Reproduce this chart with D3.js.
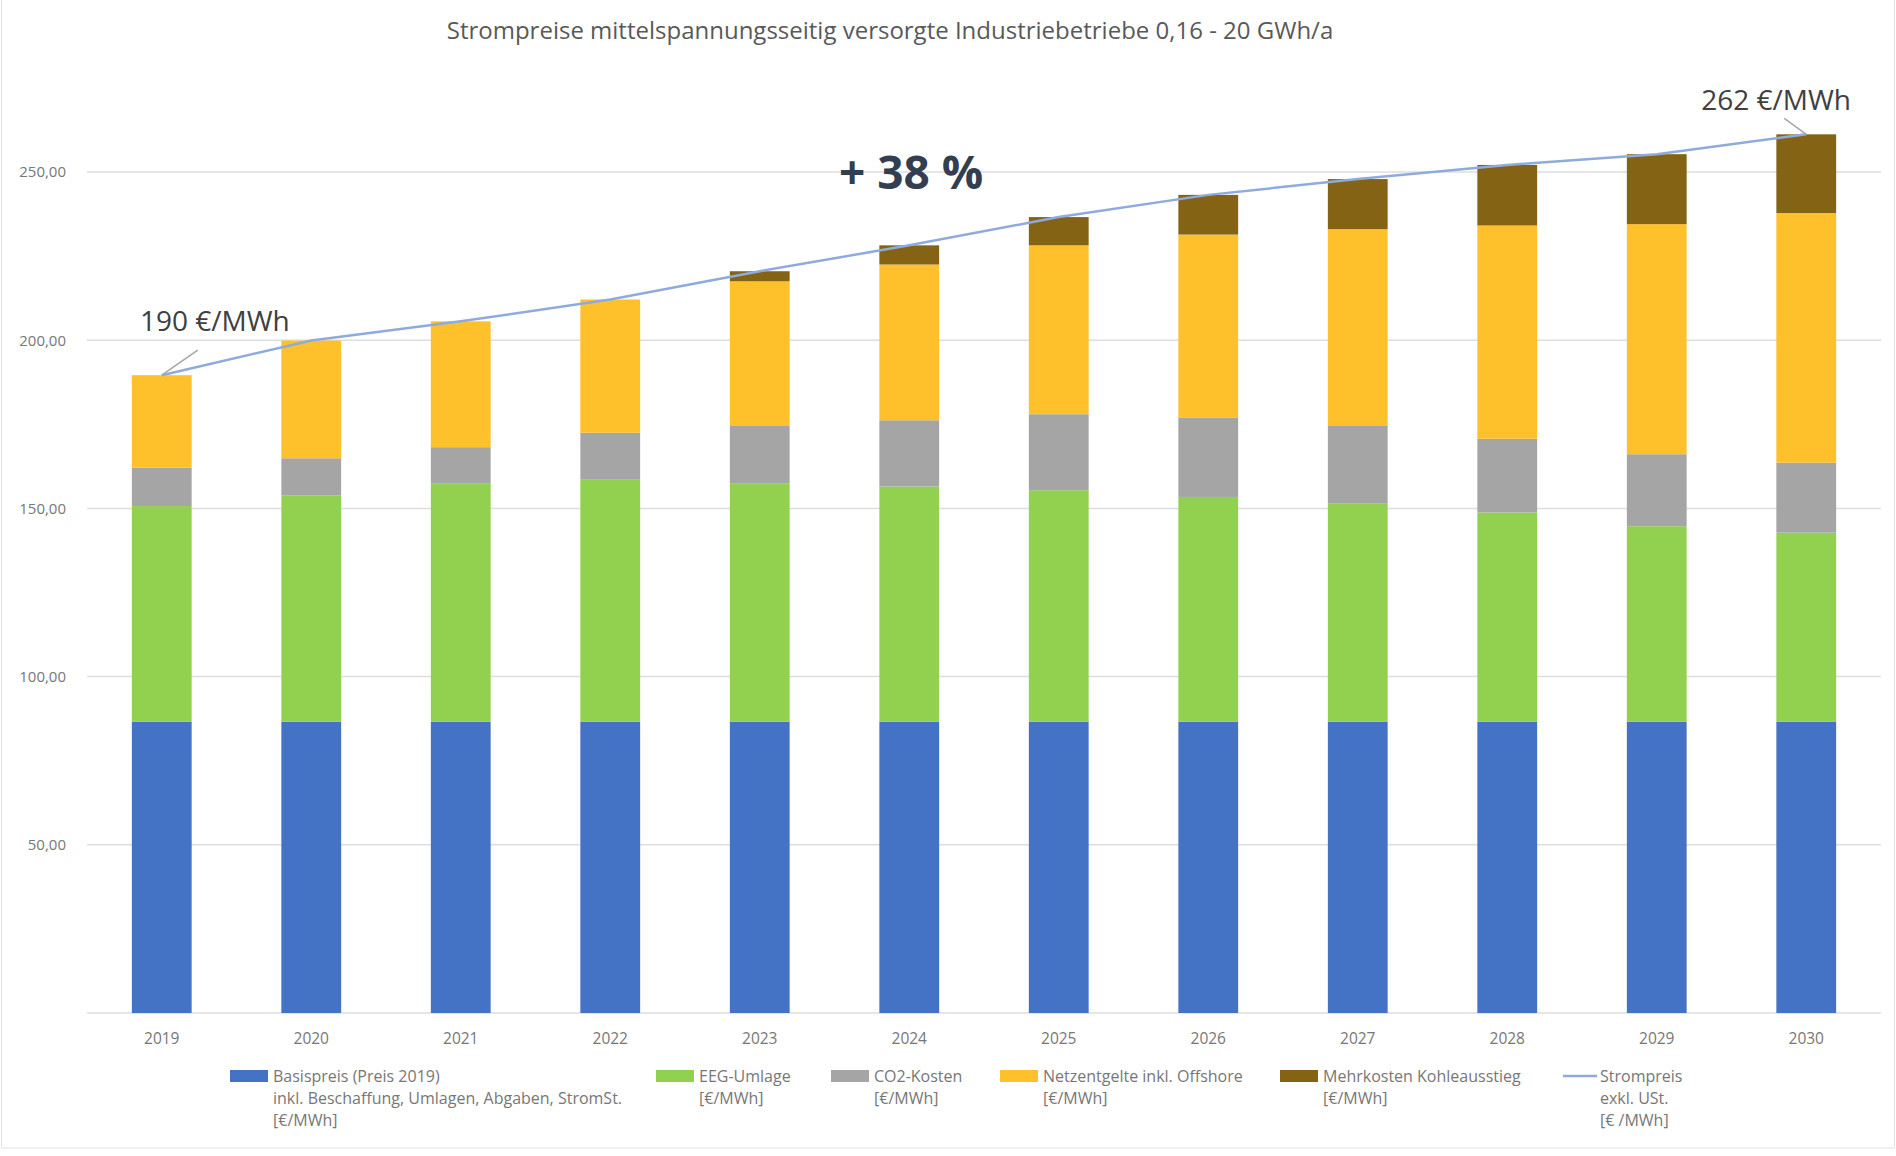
<!DOCTYPE html>
<html>
<head>
<meta charset="utf-8">
<script src="https://cdn.jsdelivr.net/npm/d3@7"></script>
<style>
  body { margin: 0; background: #fff; }
  text { font-family: "Open Sans", "DejaVu Sans", sans-serif; }
</style>
</head>
<body>
<div id="chart"></div>
<script>
// Jahre und Komponenten des Strompreises [€/MWh]
const jahre = ["2019", "2020", "2021", "2022", "2023", "2024", "2025", "2026", "2027", "2028", "2029", "2030"];
const basispreis = [86.6, 86.6, 86.6, 86.6, 86.6, 86.6, 86.6, 86.6, 86.6, 86.6, 86.6, 86.6];
const eegUmlage = [64.1, 67.3, 70.9, 72.1, 70.9, 69.9, 68.8, 66.8, 64.8, 62.2, 58.1, 56.2];
const co2Kosten = [11.4, 11.0, 10.7, 13.8, 17.0, 19.7, 22.6, 23.5, 23.3, 21.9, 21.4, 20.8];
const netzentgelte = [27.5, 35.0, 37.4, 39.6, 43.0, 46.3, 50.2, 54.5, 58.3, 63.4, 68.4, 74.2];
const kohleausstieg = [0, 0, 0, 0, 3.0, 5.7, 8.4, 11.8, 14.9, 18.0, 20.8, 23.4];
const strompreis = [189.6, 199.9, 205.6, 212.1, 220.5, 228.2, 236.6, 243.2, 247.9, 252.1, 255.3, 261.2];
const yTicks = [50, 100, 150, 200, 250];

const serien = [
  { key: "basis", werte: basispreis, farbe: "#4472C4" },
  { key: "eeg", werte: eegUmlage, farbe: "#92D050" },
  { key: "co2", werte: co2Kosten, farbe: "#A5A5A5" },
  { key: "netz", werte: netzentgelte, farbe: "#FFC12B" },
  { key: "kohle", werte: kohleausstieg, farbe: "#846414" }
];

const W = 1896, H = 1156;
const svg = d3.select("#chart").append("svg")
    .attr("width", W)
    .attr("height", H);

// Rahmen
svg.append("rect")
    .attr("x", 1.5).attr("y", -2)
    .attr("width", W - 3).attr("height", 1150)
    .attr("fill", "none")
    .attr("stroke", "#e3e3e3");

const x = d3.scaleBand()
    .domain(jahre)
    .range([87, 1881])
    .paddingInner(0.6)
    .paddingOuter(0.3);

const y = d3.scaleLinear()
    .domain([0, 250])
    .range([1013, 172]);

const de = d3.formatLocale({ decimal: ",", thousands: ".", grouping: [3], currency: ["", " €"] });
const fmt = de.format(".2f");

// Gitterlinien
svg.append("g")
    .selectAll("line")
    .data([0].concat(yTicks))
    .join("line")
    .attr("x1", 87).attr("x2", 1881)
    .attr("y1", d => y(d)).attr("y2", d => y(d))
    .attr("stroke", "#dedede")
    .attr("stroke-width", 1.5);

// Y-Achse
const yAxis = svg.append("g")
    .attr("transform", "translate(72,0)")
    .call(d3.axisLeft(y).tickValues(yTicks).tickFormat(fmt).tickSize(0).tickPadding(6));
yAxis.select(".domain").remove();
yAxis.selectAll("text")
    .attr("font-size", 15)
    .attr("fill", "#777")
    .style("font-family", "'Open Sans', sans-serif");

// X-Achse
const xAxis = svg.append("g")
    .attr("transform", "translate(0,1025)")
    .call(d3.axisBottom(x).tickSize(0).tickPadding(8));
xAxis.select(".domain").remove();
xAxis.selectAll("text")
    .attr("font-size", 15.5)
    .attr("fill", "#777")
    .style("font-family", "'Open Sans', sans-serif");

// Gestapelte Balken
const tabelle = jahre.map((j, i) => {
  const row = { jahr: j };
  serien.forEach(s => { row[s.key] = s.werte[i]; });
  return row;
});
const stack = d3.stack().keys(serien.map(s => s.key));
const gestapelt = stack(tabelle);

svg.append("g")
    .selectAll("g")
    .data(gestapelt)
    .join("g")
    .attr("fill", (d, i) => serien[i].farbe)
    .selectAll("rect")
    .data(d => d)
    .join("rect")
    .attr("x", d => x(d.data.jahr))
    .attr("width", x.bandwidth())
    .attr("y", d => y(d[1]))
    .attr("height", d => y(d[0]) - y(d[1]));

// Linie Strompreis
const linie = d3.line()
    .x((d, i) => x(jahre[i]) + x.bandwidth() / 2)
    .y(d => y(d));

svg.append("path")
    .datum(strompreis)
    .attr("d", linie)
    .attr("fill", "none")
    .attr("stroke", "#8FAADC")
    .attr("stroke-width", 2.5);

// Titel
svg.append("text")
    .attr("x", 890)
    .attr("y", 39)
    .attr("text-anchor", "middle")
    .attr("font-size", 24)
    .attr("fill", "#595959")
    .text("Strompreise mittelspannungsseitig versorgte Industriebetriebe 0,16 - 20 GWh/a");

// Anmerkungen
const first = 0, last = jahre.length - 1;
const cx = i => x(jahre[i]) + x.bandwidth() / 2;

svg.append("line")
    .attr("x1", cx(first)).attr("y1", y(strompreis[first]))
    .attr("x2", cx(first) + 36).attr("y2", y(strompreis[first]) - 25)
    .attr("stroke", "#a6a6a6").attr("stroke-width", 1.5);
svg.append("text")
    .attr("x", 140).attr("y", 331)
    .attr("font-size", 28)
    .attr("fill", "#404040")
    .text("190 €/MWh");

svg.append("line")
    .attr("x1", cx(last)).attr("y1", y(strompreis[last]))
    .attr("x2", cx(last) - 22).attr("y2", y(strompreis[last]) - 16)
    .attr("stroke", "#a6a6a6").attr("stroke-width", 1.5);
svg.append("text")
    .attr("x", 1851).attr("y", 110)
    .attr("text-anchor", "end")
    .attr("font-size", 28)
    .attr("fill", "#404040")
    .text("262 €/MWh");

svg.append("text")
    .attr("x", 911).attr("y", 189)
    .attr("text-anchor", "middle")
    .attr("font-size", 46)
    .attr("font-weight", "bold")
    .attr("fill", "#333F50")
    .text("+ 38 %");

// Legende
const legende = [
  { x: 230, farbe: "#4472C4", zeilen: ["Basispreis (Preis 2019)", "inkl. Beschaffung, Umlagen, Abgaben, StromSt.", "[€/MWh]"] },
  { x: 656, farbe: "#92D050", zeilen: ["EEG-Umlage", "[€/MWh]"] },
  { x: 831, farbe: "#A5A5A5", zeilen: ["CO2-Kosten", "[€/MWh]"] },
  { x: 1000, farbe: "#FFC12B", zeilen: ["Netzentgelte inkl. Offshore", "[€/MWh]"] },
  { x: 1280, farbe: "#846414", zeilen: ["Mehrkosten Kohleausstieg", "[€/MWh]"] },
  { x: 1563, farbe: "#8FAADC", linie: true, zeilen: ["Strompreis", "exkl. USt.", "[€ /MWh]"] }
];

const lg = svg.append("g")
    .selectAll("g")
    .data(legende)
    .join("g")
    .attr("transform", d => `translate(${d.x},1076)`);

lg.filter(d => !d.linie).append("rect")
    .attr("x", 0).attr("y", -6)
    .attr("width", 38).attr("height", 12)
    .attr("fill", d => d.farbe);

lg.filter(d => d.linie).append("line")
    .attr("x1", 0).attr("x2", 34)
    .attr("y1", 0).attr("y2", 0)
    .attr("stroke", d => d.farbe)
    .attr("stroke-width", 2.5);

lg.append("text")
    .attr("x", d => d.linie ? 37 : 43)
    .attr("y", 6)
    .attr("font-size", 16)
    .attr("fill", "#777")
    .selectAll("tspan")
    .data(d => d.zeilen)
    .join("tspan")
    .attr("x", function () { return d3.select(this.parentNode).attr("x"); })
    .attr("dy", (d, i) => i === 0 ? 0 : 22)
    .text(d => d);
</script>
</body>
</html>
